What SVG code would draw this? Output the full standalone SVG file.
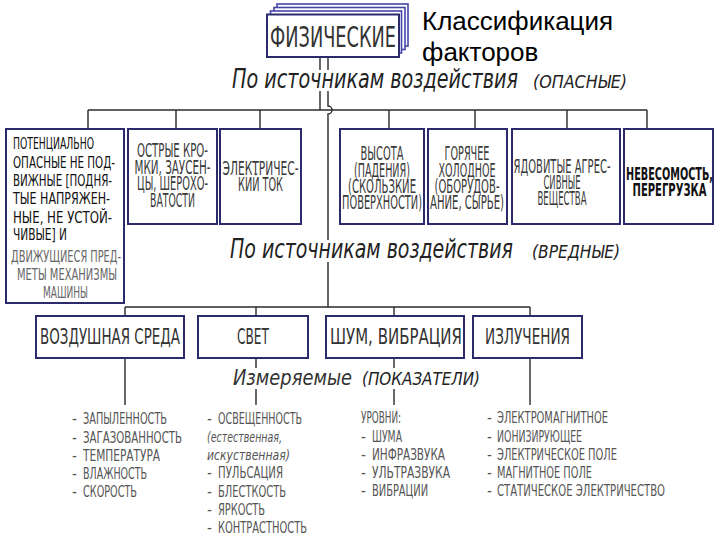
<svg xmlns="http://www.w3.org/2000/svg" width="720" height="540" viewBox="0 0 720 540">
<style>
.bx{fill:#fff;stroke:#2b2a6b;stroke-width:2}
.bk{fill:#fff;stroke:#4444aa;stroke-width:1.6}
.ln{fill:none;stroke:#2a2a2a;stroke-width:1.4}
.t{font-family:"DejaVu Sans Condensed","DejaVu Sans","Liberation Sans",sans-serif;fill:#333}
.b1{font-size:16px;fill:#111}
.g1{font-size:16px;fill:#666}
.m{font-size:19px;fill:#3a3a3a;text-anchor:middle}
.bold{font-size:17px;fill:#111;font-weight:bold;text-anchor:middle}
.bb{font-size:22px;fill:#333;text-anchor:middle}
.h{font-size:26px;font-style:italic;fill:#222}
.hs{font-size:18px;font-style:italic;fill:#222}
.li{font-size:15px;fill:#555}
.it{font-size:14px;font-style:italic;fill:#555}
.title{font-family:"Liberation Sans",Arial,sans-serif;font-size:26px;fill:#000}
</style>

<g id="connectors">
  <path class="ln" d="M320,57 V70 M320,91 V110"/>
  <path class="ln" d="M328,57 V70 M328,91 V106 A4,4 0 0 1 328,114 V240 M328,262 V307"/>
  <path class="ln" d="M88,110 H647"/>
  <path class="ln" d="M88,110 V129 M176,110 V129 M260,110 V129 M389,110 V129 M475,110 V129 M567,110 V129 M647,110 V129"/>
  <path class="ln" d="M125,307 H530"/>
  <path class="ln" d="M125,307 V316 M256,307 V316 M394,307 V316 M530,307 V316"/>
  <path class="ln" d="M125,358 V405 M256,358 V368 M256,389 V405 M394,358 V368 M394,389 V405 M530,358 V405"/>
</g>

<g id="main">
  <rect class="bk" x="277" y="4" width="131" height="42"/>
  <rect class="bk" x="274" y="7.5" width="131" height="42"/>
  <rect class="bk" x="270.5" y="11" width="131" height="42"/>
  <rect class="bx" x="267" y="14.5" width="132" height="42.5"/>
  <text class="t" x="270" y="47" font-size="29" fill="#222" textLength="126" lengthAdjust="spacingAndGlyphs">ФИЗИЧЕСКИЕ</text>
</g>

<g id="title">
  <text class="title" x="422" y="30">Классификация</text>
  <text class="title" x="422" y="61">факторов</text>
</g>

<g id="heading1">
  <text class="t h" x="232" y="88" textLength="286" lengthAdjust="spacingAndGlyphs">По источникам воздействия</text>
  <text class="t hs" x="533" y="88" textLength="94" lengthAdjust="spacingAndGlyphs">(ОПАСНЫЕ)</text>
</g>

<g id="node1">
  <rect class="bx" x="6" y="129" width="118" height="174"/>
  <text class="t b1" x="13" y="149" textLength="81" lengthAdjust="spacingAndGlyphs">ПОТЕНЦИАЛЬНО</text>
  <text class="t b1" x="13" y="168" textLength="102" lengthAdjust="spacingAndGlyphs">ОПАСНЫЕ НЕ ПОД-</text>
  <text class="t b1" x="13" y="186" textLength="99" lengthAdjust="spacingAndGlyphs">ВИЖНЫЕ [ПОДНЯ-</text>
  <text class="t b1" x="13" y="204" textLength="97" lengthAdjust="spacingAndGlyphs">ТЫЕ НАПРЯЖЕН-</text>
  <text class="t b1" x="13" y="223" textLength="99" lengthAdjust="spacingAndGlyphs">НЫЕ, НЕ УСТОЙ-</text>
  <text class="t b1" x="13" y="240" textLength="54" lengthAdjust="spacingAndGlyphs">ЧИВЫЕ] И</text>
  <text class="t g1" x="11" y="262" textLength="110" lengthAdjust="spacingAndGlyphs">ДВИЖУЩИЕСЯ ПРЕД-</text>
  <text class="t g1" x="17" y="280" textLength="100" lengthAdjust="spacingAndGlyphs">МЕТЫ МЕХАНИЗМЫ</text>
  <text class="t g1" x="43" y="298" textLength="45" lengthAdjust="spacingAndGlyphs">МАШИНЫ</text>
</g>

<g id="node2">
  <rect class="bx" x="128" y="129" width="89" height="95"/>
  <text class="t m" x="172.5" y="157" textLength="71" lengthAdjust="spacingAndGlyphs">ОСТРЫЕ КРО-</text>
  <text class="t m" x="172.5" y="174" textLength="76" lengthAdjust="spacingAndGlyphs">МКИ, ЗАУСЕН-</text>
  <text class="t m" x="172.5" y="190" textLength="71" lengthAdjust="spacingAndGlyphs">ЦЫ, ШЕРОХО-</text>
  <text class="t m" x="172.5" y="207" textLength="45" lengthAdjust="spacingAndGlyphs">ВАТОСТИ</text>
</g>

<g id="node3">
  <rect class="bx" x="220" y="129" width="81" height="95"/>
  <text class="t m" x="260.5" y="175" textLength="76" lengthAdjust="spacingAndGlyphs">ЭЛЕКТРИЧЕС-</text>
  <text class="t m" x="260.5" y="191" textLength="45" lengthAdjust="spacingAndGlyphs">КИЙ ТОК</text>
</g>

<g id="node4">
  <rect class="bx" x="340" y="129" width="84" height="95"/>
  <text class="t m" x="382" y="160" textLength="43" lengthAdjust="spacingAndGlyphs">ВЫСОТА</text>
  <text class="t m" x="382" y="177" textLength="56" lengthAdjust="spacingAndGlyphs">(ПАДЕНИЯ)</text>
  <text class="t m" x="382" y="193" textLength="68" lengthAdjust="spacingAndGlyphs">(СКОЛЬЗКИЕ</text>
  <text class="t m" x="382" y="209" textLength="80" lengthAdjust="spacingAndGlyphs">ПОВЕРХНОСТИ)</text>
</g>

<g id="node5">
  <rect class="bx" x="428" y="129" width="79" height="95"/>
  <text class="t m" x="467" y="160" textLength="45" lengthAdjust="spacingAndGlyphs">ГОРЯЧЕЕ</text>
  <text class="t m" x="467" y="177" textLength="57" lengthAdjust="spacingAndGlyphs">ХОЛОДНОЕ</text>
  <text class="t m" x="467" y="193" textLength="65" lengthAdjust="spacingAndGlyphs">(ОБОРУДОВ-</text>
  <text class="t m" x="467" y="209" textLength="74" lengthAdjust="spacingAndGlyphs">АНИЕ, СЫРЬЕ)</text>
</g>

<g id="node6">
  <rect class="bx" x="512" y="129" width="108" height="95"/>
  <text class="t m" x="562" y="173" textLength="97" lengthAdjust="spacingAndGlyphs">ЯДОВИТЫЕ АГРЕС-</text>
  <text class="t m" x="562" y="189" textLength="37" lengthAdjust="spacingAndGlyphs">СИВНЫЕ</text>
  <text class="t m" x="562" y="205" textLength="49" lengthAdjust="spacingAndGlyphs">ВЕЩЕСТВА</text>
</g>

<g id="node7">
  <rect class="bx" x="624" y="129" width="89" height="95"/>
  <text class="t bold" x="669.5" y="180" textLength="87" lengthAdjust="spacingAndGlyphs">НЕВЕСОМОСТЬ,</text>
  <text class="t bold" x="669.5" y="196" textLength="74" lengthAdjust="spacingAndGlyphs">ПЕРЕГРУЗКА</text>
</g>

<g id="heading2">
  <text class="t h" x="230" y="258" textLength="283" lengthAdjust="spacingAndGlyphs">По источникам воздействия</text>
  <text class="t hs" x="532" y="258" textLength="88" lengthAdjust="spacingAndGlyphs">(ВРЕДНЫЕ)</text>
</g>

<g id="air">
  <rect class="bx" x="36" y="316" width="148" height="42"/>
  <text class="t bb" x="110" y="344" textLength="140" lengthAdjust="spacingAndGlyphs">ВОЗДУШНАЯ СРЕДА</text>
</g>
<g id="light">
  <rect class="bx" x="198" y="316" width="110" height="42"/>
  <text class="t bb" x="253" y="344" textLength="32" lengthAdjust="spacingAndGlyphs">СВЕТ</text>
</g>
<g id="noise">
  <rect class="bx" x="326" y="316" width="138" height="42"/>
  <text class="t bb" x="396" y="344" textLength="132" lengthAdjust="spacingAndGlyphs">ШУМ, ВИБРАЦИЯ</text>
</g>
<g id="radiation">
  <rect class="bx" x="473" y="316" width="109" height="42"/>
  <text class="t bb" x="527.5" y="344" textLength="85" lengthAdjust="spacingAndGlyphs">ИЗЛУЧЕНИЯ</text>
</g>

<g id="heading3">
  <text class="t" x="233" y="385" font-size="22" font-style="italic" fill="#111" textLength="119" lengthAdjust="spacingAndGlyphs">Измеряемые</text>
  <text class="t hs" x="362" y="385" textLength="118" lengthAdjust="spacingAndGlyphs">(ПОКАЗАТЕЛИ)</text>
</g>

<g id="list-air">
  <text class="t li" x="72" y="424">- <tspan x="83" textLength="84" lengthAdjust="spacingAndGlyphs">ЗАПЫЛЕННОСТЬ</tspan></text>
  <text class="t li" x="72" y="443">- <tspan x="83" textLength="99" lengthAdjust="spacingAndGlyphs">ЗАГАЗОВАННОСТЬ</tspan></text>
  <text class="t li" x="72" y="461">- <tspan x="83" textLength="77" lengthAdjust="spacingAndGlyphs">ТЕМПЕРАТУРА</tspan></text>
  <text class="t li" x="72" y="479">- <tspan x="83" textLength="64" lengthAdjust="spacingAndGlyphs">ВЛАЖНОСТЬ</tspan></text>
  <text class="t li" x="72" y="497">- <tspan x="83" textLength="54" lengthAdjust="spacingAndGlyphs">СКОРОСТЬ</tspan></text>
</g>

<g id="list-light">
  <text class="t li" x="207" y="424">- <tspan x="218" textLength="84" lengthAdjust="spacingAndGlyphs">ОСВЕЩЕННОСТЬ</tspan></text>
  <text class="t it" x="207" y="442" textLength="75" lengthAdjust="spacingAndGlyphs">(естественная,</text>
  <text class="t it" x="207" y="460" textLength="83" lengthAdjust="spacingAndGlyphs">искуственная)</text>
  <text class="t li" x="207" y="478">- <tspan x="218" textLength="65" lengthAdjust="spacingAndGlyphs">ПУЛЬСАЦИЯ</tspan></text>
  <text class="t li" x="207" y="497">- <tspan x="218" textLength="68" lengthAdjust="spacingAndGlyphs">БЛЕСТКОСТЬ</tspan></text>
  <text class="t li" x="207" y="515">- <tspan x="218" textLength="47" lengthAdjust="spacingAndGlyphs">ЯРКОСТЬ</tspan></text>
  <text class="t li" x="207" y="533">- <tspan x="218" textLength="89" lengthAdjust="spacingAndGlyphs">КОНТРАСТНОСТЬ</tspan></text>
</g>

<g id="list-noise">
  <text class="t li" x="361" y="423" textLength="40" lengthAdjust="spacingAndGlyphs">УРОВНИ:</text>
  <text class="t li" x="361" y="442">- <tspan x="372" textLength="30" lengthAdjust="spacingAndGlyphs">ШУМА</tspan></text>
  <text class="t li" x="361" y="460">- <tspan x="372" textLength="73" lengthAdjust="spacingAndGlyphs">ИНФРАЗВУКА</tspan></text>
  <text class="t li" x="361" y="478">- <tspan x="372" textLength="78" lengthAdjust="spacingAndGlyphs">УЛЬТРАЗВУКА</tspan></text>
  <text class="t li" x="361" y="496">- <tspan x="372" textLength="56" lengthAdjust="spacingAndGlyphs">ВИБРАЦИИ</tspan></text>
</g>

<g id="list-radiation">
  <text class="t li" x="487" y="423">- <tspan x="497" textLength="111" lengthAdjust="spacingAndGlyphs">ЭЛЕКТРОМАГНИТНОЕ</tspan></text>
  <text class="t li" x="487" y="442">- <tspan x="497" textLength="85" lengthAdjust="spacingAndGlyphs">ИОНИЗИРУЮЩЕЕ</tspan></text>
  <text class="t li" x="487" y="460">- <tspan x="497" textLength="120" lengthAdjust="spacingAndGlyphs">ЭЛЕКТРИЧЕСКОЕ ПОЛЕ</tspan></text>
  <text class="t li" x="487" y="478">- <tspan x="497" textLength="95" lengthAdjust="spacingAndGlyphs">МАГНИТНОЕ ПОЛЕ</tspan></text>
  <text class="t li" x="487" y="496">- <tspan x="497" textLength="168" lengthAdjust="spacingAndGlyphs">СТАТИЧЕСКОЕ ЭЛЕКТРИЧЕСТВО</tspan></text>
</g>
</svg>
